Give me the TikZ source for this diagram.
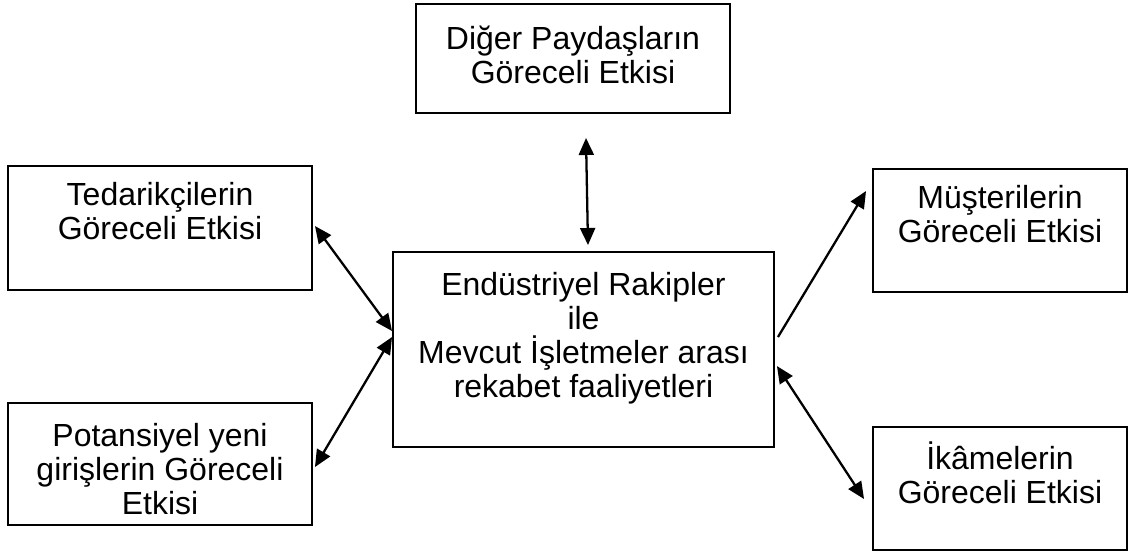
\documentclass[tikz,border=0pt]{standalone}
\usepackage{fontspec}
\setmainfont{Liberation Sans}
\usetikzlibrary{arrows.meta,calc,fit}
\begin{document}
\begin{tikzpicture}[x=0.02cm,y=-0.02cm,
  box/.style={draw, line width=1.1pt, inner sep=0pt},
  lbl/.style={anchor=north, inner sep=0pt, align=center,
    font=\fontsize{18.2pt}{19.4pt}\selectfont},
  tip/.style={Triangle[length=0.34cm,width=0.3cm]},
  link/.style={line width=1.3pt, {Triangle[length=0.34cm,width=0.3cm]}-{Triangle[length=0.34cm,width=0.3cm]}},
  oneway/.style={line width=1.3pt, -{Triangle[length=0.34cm,width=0.3cm]}}]
\useasboundingbox (0,0) rectangle (1134,554);

% boxes
\node[box, fit={(416,4) (730,113)}] (top) {};
\node[box, fit={(8,166) (312,290)}] (lt) {};
\node[box, fit={(8,403) (312,525)}] (lb) {};
\node[box, fit={(393,252) (774,447)}] (mid) {};
\node[box, fit={(873,169) (1127,292)}] (rt) {};
\node[box, fit={(873,427) (1127,550)}] (rb) {};

% labels
\newcommand{\fl}{\rule{0pt}{1em}}
\node[lbl] (topT) at ([yshift=-0.28cm]top.north) {\fl Diğer Paydaşların\\Göreceli Etkisi};
\node[lbl] (ltT) at ([yshift=-0.17cm]lt.north) {\fl Tedarikçilerin\\Göreceli Etkisi};
\node[lbl] (lbT) at ([yshift=-0.24cm]lb.north) {\fl Potansiyel yeni\\girişlerin Göreceli\\Etkisi};
\node[lbl] (midT) at ([yshift=-0.24cm]mid.north) {\fl Endüstriyel Rakipler\\ile\\Mevcut İşletmeler arası\\rekabet faaliyetleri};
\node[lbl] (rtT) at ([yshift=-0.17cm]rt.north) {\fl Müşterilerin\\Göreceli Etkisi};
\node[lbl] (rbT) at ([yshift=-0.22cm]rb.north) {\fl İkâmelerin\\Göreceli Etkisi};

% connectors
\coordinate (vTop) at (586,138);
\coordinate (vBot) at (588,245);
\draw[link] (vTop) -- (vBot);
\draw[link] ($(lt.north east)+(2,61)$) -- ($(mid.north west)+(0,80)$);
\draw[link] ($(mid.north west)+(0,86)$) -- ($(lb.north east)+(2,65)$);
\draw[oneway] ($(mid.north east)+(3,86)$) -- ($(rt.north west)+(-6,23)$);
\draw[link] ($(mid.north east)+(2,115)$) -- ($(rb.north west)+(-8,73)$);
\end{tikzpicture}
\end{document}
